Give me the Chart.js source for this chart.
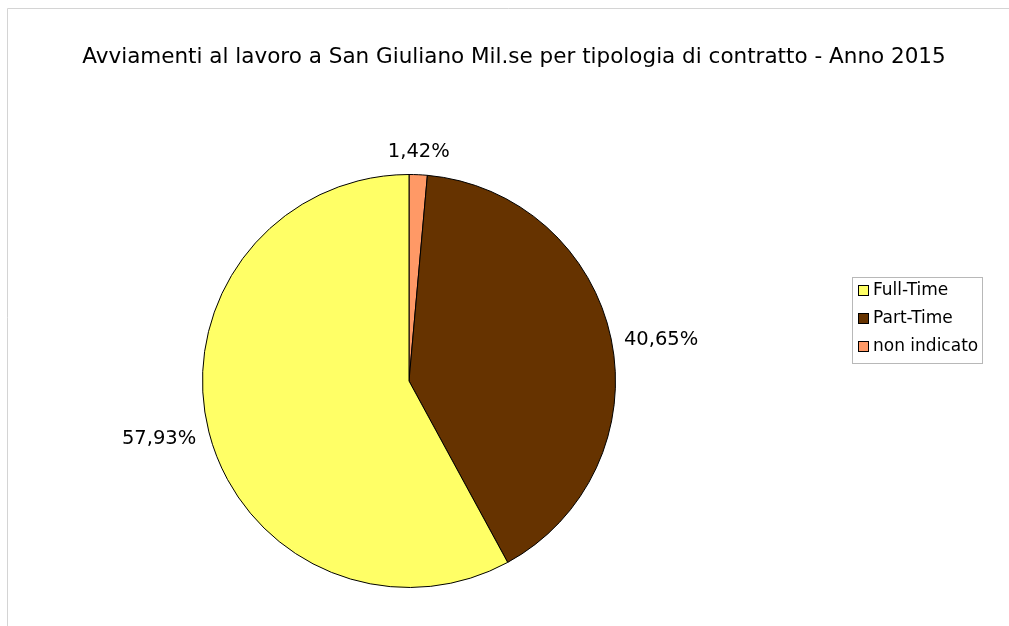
<!DOCTYPE html>
<html>
<head>
<meta charset="utf-8">
<script src="https://cdn.jsdelivr.net/npm/chart.js@4.4.0/dist/chart.umd.min.js"></script>
<style>
  html, body { margin: 0; padding: 0; background: #fff; }
  #wrap { width: 1009px; height: 626px; position: relative; }
</style>
</head>
<body>
<div id="wrap"><canvas id="pie" width="1009" height="626"></canvas></div>
<script>
// data, in legend order
const titleText = 'Avviamenti al lavoro a San Giuliano Mil.se per tipologia di contratto - Anno 2015';
const categories = ['Full-Time', 'Part-Time', 'non indicato'];
const shares = [57.93, 40.65, 1.42];
const colors = ['#FFFF66', '#663300', '#FF9966'];

const FONT = '"DejaVu Sans", Verdana, sans-serif';

// the pie runs counter-clockwise from 12 o'clock, so feed the slices reversed
const drawOrder = [2, 1, 0];

const frame = {
  id: 'frame',
  beforeDraw(chart) {
    const c = chart.ctx;
    c.save();
    c.fillStyle = '#fff';
    c.fillRect(0, 0, chart.width, chart.height);
    c.strokeStyle = '#d4d4d4';
    c.lineWidth = 1;
    c.beginPath();
    c.moveTo(7.5, chart.height);
    c.lineTo(7.5, 8.5);
    c.lineTo(chart.width, 8.5);
    c.stroke();
    c.restore();
  },
  afterDraw(chart) {
    const c = chart.ctx;
    c.save();
    // title
    c.fillStyle = '#000';
    c.font = '21.5px ' + FONT;
    c.textAlign = 'center';
    c.textBaseline = 'middle';
    c.fillText(titleText, 514, 57);

    // percentage labels outside the slices
    c.font = '19.5px ' + FONT;
    const meta = chart.getDatasetMeta(0);
    meta.data.forEach((arc, i) => {
      const p = arc.getProps(['x', 'y', 'startAngle', 'endAngle', 'outerRadius'], true);
      const mid = (p.startAngle + p.endAngle) / 2;
      const r = p.outerRadius + 13;
      const cx = Math.cos(mid), sy = Math.sin(mid);
      const ax = p.x + cx * r;
      let ay = p.y + sy * r;
      c.textAlign = cx > 0.3 ? 'left' : (cx < -0.3 ? 'right' : 'center');
      if (sy < -0.7) c.textBaseline = 'bottom';
      else if (sy > 0.7) c.textBaseline = 'top';
      else { c.textBaseline = 'middle'; ay += 4; }
      const v = chart.data.datasets[0].data[i];
      c.fillText(v.toFixed(2).replace('.', ',') + '%', ax, ay);
    });

    // legend box
    const lx = 852, ly = 277, lw = 130, lh = 86;
    c.font = '17px ' + FONT;
    c.strokeStyle = '#b8b8b8';
    c.lineWidth = 1;
    c.strokeRect(lx + 0.5, ly + 0.5, lw, lh);
    c.textAlign = 'left';
    c.textBaseline = 'middle';
    categories.forEach((name, i) => {
      const yy = ly + 14 + i * 28;
      c.fillStyle = colors[i];
      c.fillRect(lx + 6, yy - 6, 11, 11);
      c.strokeStyle = '#000';
      c.strokeRect(lx + 6.5, yy - 5.5, 10, 10);
      c.fillStyle = '#000';
      c.fillText(name, lx + 21, yy);
    });
    c.restore();
  }
};

new Chart(document.getElementById('pie'), {
  type: 'pie',
  data: {
    labels: drawOrder.map(i => categories[i]),
    datasets: [{
      data: drawOrder.map(i => shares[i]),
      backgroundColor: drawOrder.map(i => colors[i]),
      borderColor: '#000',
      borderWidth: 1
    }]
  },
  options: {
    responsive: false,
    animation: false,
    layout: { padding: { left: 202, top: 174, right: 393, bottom: 38 } },
    plugins: {
      legend: { display: false },
      title: { display: false },
      tooltip: { enabled: false }
    }
  },
  plugins: [frame]
});
</script>
</body>
</html>
